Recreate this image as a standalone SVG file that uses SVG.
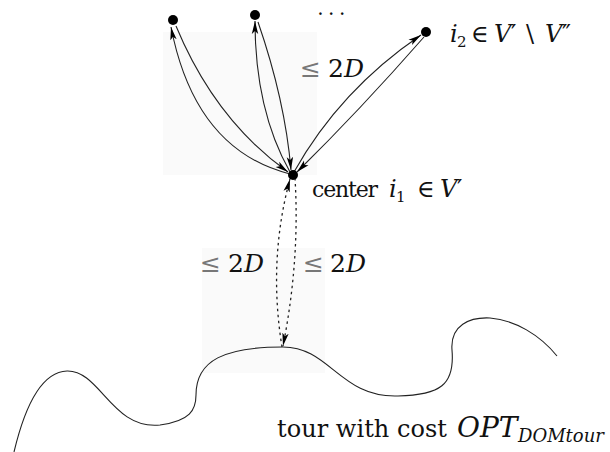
<svg xmlns="http://www.w3.org/2000/svg" width="610" height="452" viewBox="0 0 610 452">
<defs>
<marker id="ah" markerUnits="userSpaceOnUse" markerWidth="14" markerHeight="8" refX="13" refY="4" orient="auto">
<path d="M0,0.8 L13,4 L0,7.2 L3,4 z" fill="#000"/>
</marker>
<style>
.e{fill:none;stroke:#222;stroke-width:1.1}
.d{fill:none;stroke:#222;stroke-width:1.3;stroke-dasharray:2.5 3.5}
.n{fill:#000}
.t{font-family:"DejaVu Serif","Liberation Serif",serif;fill:#111}
.m{font-family:"DejaVu Serif","Liberation Serif",serif;font-style:italic;fill:#111}
.le{font-family:"DejaVu Serif","Liberation Serif",serif;fill:#777}
.g{fill:#fafafa}
</style>
</defs>
<rect width="610" height="452" fill="#fff"/>
<rect class="g" x="163" y="32" width="154" height="143"/>
<rect class="g" x="202" y="248" width="123" height="125"/>
<g id="tour">
<path class="e" d="M14,452 C24,410 40,372 67,371 C100,370 112,430 160,425 C190,421 196,410 196,395 C196,360 225,347 283,347 C330,347 340,398 398,396 C440,395 455,385 452,350 C450,325 470,317 490,318 C515,320 540,335 557,356"/>
<text class="t" x="277" y="437" font-size="24" textLength="170" lengthAdjust="spacing">tour with cost</text>
<text class="m" x="457" y="437" font-size="28">OPT</text>
<text class="m" x="518" y="442" font-size="18">DOMtour</text>
</g>
<g id="connectors">
<path class="e" d="M290,174 Q195,150 171,27" marker-end="url(#ah)"/>
<path class="e" d="M176,26 Q215,120 288,172" marker-end="url(#ah)"/>
<path class="e" d="M290,172 Q255,110 255,21" marker-end="url(#ah)"/>
<path class="e" d="M258,22 Q285,100 291,170" marker-end="url(#ah)"/>
<path class="e" d="M294,172 Q340,90 421,35" marker-end="url(#ah)"/>
<path class="e" d="M424,37 Q360,110 297,172" marker-end="url(#ah)"/>
<path class="d" d="M282,347 Q268,260 290,179" marker-end="url(#ah)"/>
<path class="d" d="M295,178 Q300,260 283,346" marker-end="url(#ah)"/>
<text class="le" x="300" y="77" font-size="25">≤</text>
<text x="328" y="77" font-size="25"><tspan class="t">2</tspan><tspan class="m">D</tspan></text>
<text class="le" x="200" y="272" font-size="25">≤</text>
<text x="228" y="272" font-size="25"><tspan class="t">2</tspan><tspan class="m">D</tspan></text>
<text class="le" x="303" y="272" font-size="25">≤</text>
<text x="330" y="272" font-size="25"><tspan class="t">2</tspan><tspan class="m">D</tspan></text>
</g>
<g id="node1"><circle class="n" cx="173" cy="20" r="5"/></g>
<g id="node2"><circle class="n" cx="255" cy="15" r="5"/></g>
<text class="t" x="318" y="15" font-size="14" font-weight="bold" letter-spacing="6">...</text>
<g id="node3"><circle class="n" cx="426" cy="32" r="5"/>
<text class="m" x="450" y="42" font-size="24">i</text>
<text class="t" x="457" y="47" font-size="15">2</text>
<text class="t" x="471" y="42" font-size="24">∈</text>
<text class="m" x="494" y="42" font-size="24">V</text>
<text class="t" x="511" y="42" font-size="24">′</text>
<text class="t" x="526" y="42" font-size="24">\</text>
<text class="m" x="545" y="42" font-size="24">V</text>
<text class="t" x="562" y="42" font-size="24">″</text>
</g>
<g id="center"><circle class="n" cx="293" cy="175" r="5"/>
<text class="t" x="312" y="197" font-size="22" textLength="66" lengthAdjust="spacing">center</text>
<text class="m" x="389" y="197" font-size="24">i</text>
<text class="t" x="396" y="202" font-size="15">1</text>
<text class="t" x="417" y="197" font-size="24">∈</text>
<text class="m" x="440" y="197" font-size="24">V</text>
<text class="t" x="457" y="197" font-size="24">′</text>
</g>
</svg>
